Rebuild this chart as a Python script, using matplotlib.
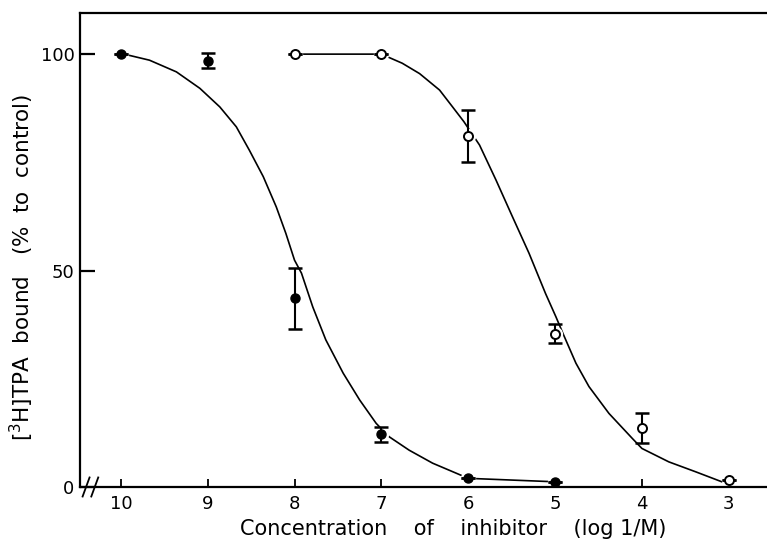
import matplotlib
matplotlib.use("Agg")
import matplotlib.pyplot as plt

# measured points, x = log 1/M
x_filled = [10, 9, 8, 7, 6, 5]
y_filled = [100, 98.5, 43.6, 12.2, 2.0, 1.2]
err_filled = [0, 1.7, 7.0, 1.7, 0, 0]

x_open = [8, 7, 6, 5, 4, 3]
y_open = [100, 100, 81.1, 35.4, 13.6, 1.5]
err_open = [0, 0, 6.0, 2.2, 3.4, 0]

# hand-drawn fitted curves
curve_filled_x = [9.92, 9.67, 9.36, 9.09, 8.86, 8.67, 8.52, 8.36, 8.21, 8.10,
                  8.00, 7.92, 7.79, 7.64, 7.44, 7.25, 7.06, 6.91, 6.68, 6.41,
                  6.14, 6.0, 5.0]
curve_filled_y = [99.8, 98.6, 95.9, 92.1, 87.8, 83.2, 77.8, 71.7, 64.7, 58.6,
                  52.4, 49.4, 41.6, 34.0, 26.3, 20.1, 14.7, 11.6, 8.5, 5.5,
                  3.2, 2.0, 1.2]

curve_open_x = [8.0, 7.0, 6.76, 6.56, 6.33, 6.18, 6.05, 5.87, 5.68, 5.49, 5.30,
                5.11, 4.99, 4.91, 4.76, 4.61, 4.38, 4.11, 4.00, 3.69, 3.38,
                3.08, 3.0]
curve_open_y = [100, 100, 97.9, 95.5, 91.7, 87.8, 84.4, 79.0, 70.9, 62.4, 54.0,
                44.7, 39.3, 35.5, 28.6, 23.2, 17.0, 11.2, 8.9, 5.8, 3.5,
                1.2, 1.0]

xticks = [10, 9, 8, 7, 6, 5, 4, 3]
yticks = [0, 50, 100]

fig = plt.figure(figsize=(7.67, 5.42), dpi=100)
ax = fig.add_axes([0.1043, 0.1015, 0.8957, 0.8745])

ax.plot(curve_filled_x, curve_filled_y, color="black", lw=1.2, zorder=1)
ax.plot(curve_open_x, curve_open_y, color="black", lw=1.2, zorder=1)

# white halos make the small gaps where the curves meet the symbols
ax.plot(x_filled, y_filled, "o", ms=10, color="white", zorder=2, clip_on=False)
ax.plot(x_open, y_open, "o", ms=10, color="white", zorder=2, clip_on=False)

ax.errorbar(x_filled, y_filled, yerr=err_filled, fmt="none", ecolor="black",
            elinewidth=1.5, capsize=4.7, capthick=1.8, zorder=3)
ax.errorbar(x_open, y_open, yerr=err_open, fmt="none", ecolor="black",
            elinewidth=1.5, capsize=4.7, capthick=1.8, zorder=3)

ax.plot(x_filled, y_filled, "o", ms=6.5, color="black", zorder=4, clip_on=False)
ax.plot(x_open, y_open, "o", ms=6.5, mfc="white", mec="black", mew=1.4,
        zorder=4, clip_on=False)

ax.set_xlim(10.47, 2.56)
ax.set_ylim(0, 109.5)
ax.set_xticks(xticks)
ax.set_yticks(yticks)
ax.set_xticklabels([str(t) for t in xticks])
ax.set_yticklabels([str(t) for t in yticks])

ax.spines["right"].set_visible(False)
for s in ["left", "top", "bottom"]:
    ax.spines[s].set_linewidth(1.6)

ax.tick_params(axis="x", direction="in", length=6, width=1.3, labelsize=13, pad=6)
ax.tick_params(axis="y", direction="in", length=11, width=1.6, labelsize=13, pad=4)

# axis break marks
for xb in [10.40, 10.30]:
    ax.plot([xb + 0.04, xb - 0.04], [-2.2, 2.2], color="black", lw=1.3,
            clip_on=False, zorder=5)

ax.set_xlabel("Concentration    of    inhibitor    (log 1/M)", fontsize=15,
              va="top")
ax.xaxis.set_label_coords(0.543, -0.068)
fig.text(22 / 767, 1 - 267 / 542, "[$^3$H]TPA  bound   (%  to  control)",
         fontsize=15.5, rotation=90, ha="center", va="center")

fig.savefig("out.png", dpi=100)
